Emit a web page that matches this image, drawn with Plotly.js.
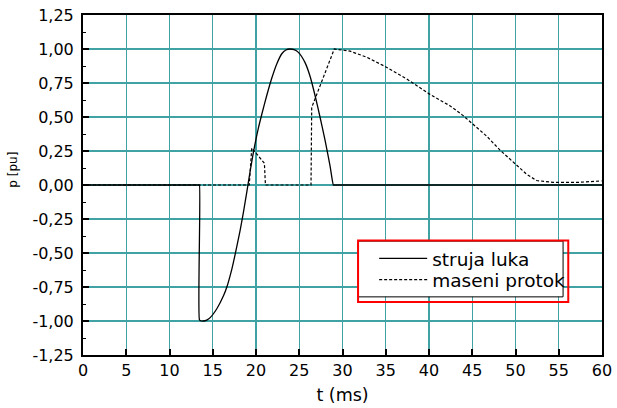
<!DOCTYPE html>
<html>
<head>
<meta charset="utf-8">
<script src="https://cdn.plot.ly/plotly-3.0.1.min.js"></script>
<style>
  html, body { margin: 0; padding: 0; background: #ffffff; }
  #chart { width: 617px; height: 408px; }
</style>
</head>
<body>
<div id="chart"></div>
<script>
// Arc current (struja luka), per-unit, vs time in ms
const arcT = [0, 13.40, 13.46, 13.46, 13.6, 13.93, 14.3, 14.7, 15.47, 16.24, 16.63, 17.2, 17.59,
              18.16, 18.55, 18.94, 19.32, 19.7, 20.28, 20.67, 21.25, 21.82, 22.4, 22.98, 23.45,
              23.94, 24.4, 24.9, 25.67, 26.25, 26.82, 27.4, 27.98, 28.56, 28.94, 29.0, 60];
const arcP = [0, 0, 0, -0.99, -0.998, -1.0, -0.993, -0.975, -0.91, -0.815, -0.75, -0.62, -0.51,
              -0.335, -0.2, -0.05, 0.1, 0.24, 0.42, 0.52, 0.66, 0.785, 0.89, 0.965, 0.993,
              1.0, 0.995, 0.975, 0.9, 0.8, 0.66, 0.5, 0.33, 0.14, 0, 0, 0];

// Mass flow (maseni protok), per-unit, vs time in ms
const flowT = [0, 19.22, 19.51, 20.97, 21.09, 26.36, 26.44, 29.05, 30.87, 32.79, 35.02, 37.41,
               40.02, 42.41, 43.95, 45.1, 46.65, 48.19, 49.92, 51.27, 52.42, 53.96,
               54.34, 57.42, 59.93];
const flowP = [0, 0, 0.272, 0.16, 0, 0, 0.57, 1.0, 0.984, 0.94, 0.868, 0.78,
               0.67, 0.583, 0.51, 0.447, 0.36, 0.258, 0.158, 0.08, 0.033, 0.026,
               0.02, 0.02, 0.03];

const seriesNames = ['struja luka', 'maseni protok'];

// Axis ticks
const xTickVals = [0, 5, 10, 15, 20, 25, 30, 35, 40, 45, 50, 55, 60];
const xTickText = ['0', '5', '10', '15', '20', '25', '30', '35', '40', '45', '50', '55', '60'];
const yTickVals = [-1.25, -1.0, -0.75, -0.5, -0.25, 0, 0.25, 0.5, 0.75, 1.0, 1.25];
const yTickText = ['-1,25', '-1,00', '-0,75', '-0,50', '-0,25', '0,00', '0,25', '0,50', '0,75', '1,00', '1,25'];

const FONT = 'DejaVu Sans, Verdana, sans-serif';
const GRID = 'rgb(64,162,162)';

const traces = [
  {
    x: arcT, y: arcP, name: seriesNames[0], type: 'scatter', mode: 'lines',
    legend: 'legend',
    line: { color: '#000000', width: 1.3, shape: 'spline', smoothing: 0.6 }
  },
  {
    x: flowT, y: flowP, name: seriesNames[1], type: 'scatter', mode: 'lines',
    legend: 'legend2',
    line: { color: '#000000', width: 1.2, dash: '3px,2px' }
  }
];

// one legend row per series so the two rows sit close together inside the panel
const legendStyle = {
  xanchor: 'left', yanchor: 'middle',
  bgcolor: 'rgba(0,0,0,0)', borderwidth: 0,
  font: { family: FONT, size: 18.5, color: '#000000' },
  itemwidth: 48
};

const layout = {
  width: 617, height: 408,
  margin: { l: 83, r: 15, t: 15, b: 53 },
  paper_bgcolor: '#ffffff', plot_bgcolor: '#ffffff',
  font: { family: FONT, color: '#000000', size: 16 },
  showlegend: true,
  legend: Object.assign({ x: 0.561, y: 0.2825 }, legendStyle),
  legend2: Object.assign({ x: 0.561, y: 0.2205 }, legendStyle),
  xaxis: {
    range: [0, 60], tickmode: 'array', tickvals: xTickVals, ticktext: xTickText,
    showgrid: true, gridcolor: GRID, gridwidth: 1.4, zeroline: false,
    showline: true, linecolor: '#000000', linewidth: 2, mirror: true,
    ticks: 'inside', ticklen: 6, tickwidth: 2, tickcolor: '#000000',
    tickfont: { family: FONT, size: 16 },
    title: { text: 't (ms)', font: { family: FONT, size: 17.5 }, standoff: 10 }
  },
  yaxis: {
    range: [-1.25, 1.25], tickmode: 'array', tickvals: yTickVals, ticktext: yTickText,
    showgrid: true, gridcolor: GRID, gridwidth: 1.4, zeroline: false,
    showline: true, linecolor: '#000000', linewidth: 2, mirror: true,
    ticks: 'inside', ticklen: 6, tickwidth: 1.5, tickcolor: '#000000',
    minor: { dtick: 0.125, tick0: 0, ticks: 'inside', ticklen: 3, tickwidth: 1, tickcolor: '#000000', showgrid: false },
    tickfont: { family: FONT, size: 16 },
    ticklabelstandoff: 4
  },
  annotations: [
    {
      text: 'p [pu]', xref: 'paper', yref: 'paper', x: -0.135, y: 0.545,
      xanchor: 'center', yanchor: 'middle', textangle: -90, showarrow: false,
      font: { family: FONT, size: 12, color: '#000000' }
    }
  ],
  shapes: [
    // legend panel: white fill with shadow edges and a red frame
    { type: 'rect', xref: 'paper', yref: 'paper', x0: 0.530, x1: 0.925, y0: 0.171, y1: 0.335,
      layer: 'above', fillcolor: '#ffffff', line: { color: '#000000', width: 1 } },
    { type: 'rect', xref: 'paper', yref: 'paper', x0: 0.530, x1: 0.935, y0: 0.156, y1: 0.337,
      layer: 'above', fillcolor: 'rgba(0,0,0,0)', line: { color: '#ff0000', width: 2 } }
  ]
};

Plotly.newPlot('chart', traces, layout, { staticPlot: true, displayModeBar: false });
</script>
</body>
</html>
